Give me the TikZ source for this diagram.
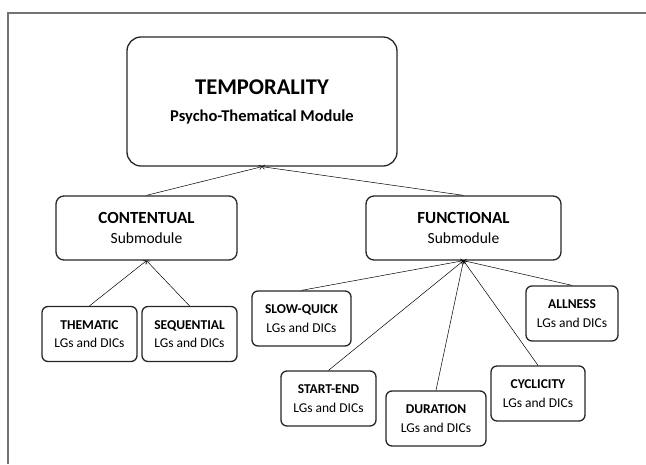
\documentclass[tikz,border=0pt]{standalone}
\usepackage{fontspec}
\setmainfont{Carlito}
\usetikzlibrary{arrows.meta}

\begin{document}
\begin{tikzpicture}[x=1pt,y=-1pt,
  modbox/.style={draw=black!85,line width=1.3pt,rounded corners=14pt,align=center,inner sep=0pt,
    font=\fontsize{16.5}{27}\selectfont\bfseries},
  subbox/.style={draw=black!85,line width=1.3pt,rounded corners=8pt,align=center,inner sep=0pt,minimum height=64pt,
    font=\fontsize{15.5}{20.5}\selectfont},
  lgbox/.style={draw=black!85,line width=1.3pt,rounded corners=6pt,align=center,inner sep=0pt,minimum height=55pt,
    font=\fontsize{13.5}{18.5}\selectfont},
  link/.style={line width=0.5pt,-{To[length=3pt,width=5pt]}}]

\useasboundingbox (0,0) rectangle (646,464);

% frame
\draw[black!55,line width=1.5pt] (8,464) -- (8,13) -- (646,13);

% module
\node[modbox,minimum width=270pt,minimum height=129pt] (temp) at (262,101.5)
  {{\fontsize{22.5}{27}\selectfont TEMPORALITY}\\Psycho-Thematical Module};

% submodules
\node[subbox,minimum width=181pt] (cont) at (146.5,228) {{\fontsize{17}{20.5}\selectfont\bfseries CONTENTUAL}\\Submodule};
\node[subbox,minimum width=195pt] (func) at (463.5,228) {{\fontsize{17}{20.5}\selectfont\bfseries FUNCTIONAL}\\Submodule};

% LGs and DICs
\node[lgbox,minimum width=95pt] (them) at (89.5,334) {\textbf{THEMATIC}\\LGs and DICs};
\node[lgbox,minimum width=95pt] (seq) at (189.5,334) {\textbf{SEQUENTIAL}\\LGs and DICs};
\node[lgbox,minimum width=99pt] (slow) at (301.5,318.5) {\textbf{SLOW-QUICK}\\LGs and DICs};
\node[lgbox,minimum width=95pt] (start) at (328.5,398.5) {\textbf{START-END}\\LGs and DICs};
\node[lgbox,minimum width=100pt] (dur) at (436,418.5) {\textbf{DURATION}\\LGs and DICs};
\node[lgbox,minimum width=94pt] (cyc) at (538,393.5) {\textbf{CYCLICITY}\\LGs and DICs};
\node[lgbox,minimum width=92pt] (all) at (572,313.5) {\textbf{ALLNESS}\\LGs and DICs};

% links
\draw[link] (cont.north) -- (temp.south);
\draw[link] (func.north) -- (temp.south);
\draw[link] (them.north) -- (cont.south);
\draw[link] (seq.north) -- (cont.south);
\foreach \n in {slow,start,dur,cyc,all}
  \draw[link] (\n.north) -- (func.south);

\end{tikzpicture}
\end{document}
